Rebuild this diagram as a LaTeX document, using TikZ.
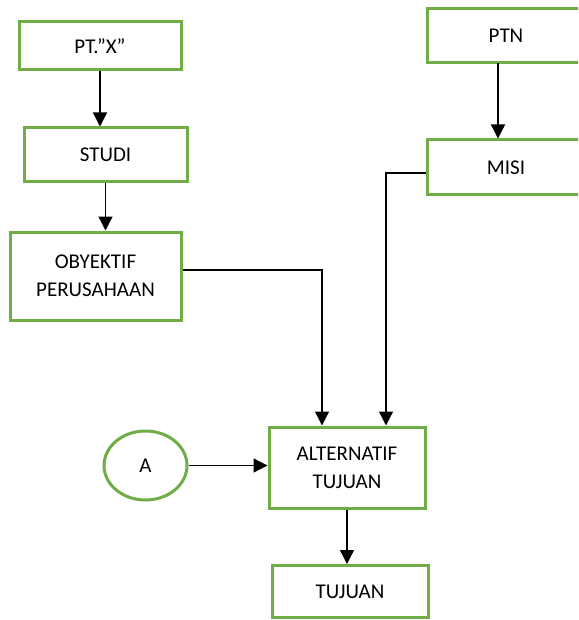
\documentclass[tikz,border=0pt]{standalone}
\usepackage{fontspec}
\setmainfont{Carlito}
\usetikzlibrary{arrows.meta,positioning,shapes.geometric}
\definecolor{boxgreen}{RGB}{112,173,71}

\begin{document}
\begin{tikzpicture}
	[
	x=1pt, y=-1pt,
	align=center,
	font=\fontsize{21}{28}\selectfont,
	box/.style={rectangle,draw=boxgreen,line width=3pt,fill=none,inner sep=0pt},
	oval/.style={ellipse,draw=boxgreen,line width=3pt,fill=none,inner sep=0pt},
	arrow/.style={
           -{Triangle[length=14pt,width=14pt]},
           line width=1.3pt,}
	]
		\clip (0,0) rectangle (578,620);
		
		% nodes
		\node[box,minimum width=162pt,minimum height=48pt] (ptx) at 	(100.0,  46.0) {PT.''X''};
		\node[box,minimum width=163pt,minimum height=54pt] (studi) at 	(105.5, 155.0) {STUDI};
		\node[box,minimum width=171pt,minimum height=88pt] (obyektif) at 	( 95.5, 276.0) {OBYEKTIF\\PERUSAHAAN};
		\node[box,minimum width=158pt,minimum height=54pt] (ptn) at 	(506.0,  36.0) {PTN};
		\node[box,minimum width=158pt,minimum height=55pt] (misi) at 	(506.0, 167.5) {MISI};
		\node[box,minimum width=156pt,minimum height=81pt] (alt) at 	(347.0, 467.5) {ALTERNATIF\\TUJUAN};
		\node[box,minimum width=156pt,minimum height=52pt] (tujuan) at 	(350.0, 591.5) {TUJUAN};
		\node[oval,minimum width=83pt,minimum height=69pt] (a) at 		(145.5, 465.5) {A};
		
		% bends
		\coordinate (k1) at (322, 270);
		\coordinate (k2) at (386, 173);
		\coordinate (k3) at (498,  63);
		
		% straight paths
		\draw[arrow] (ptx.south) -- (ptx.south |- studi.north);
		\draw[arrow] (studi.south) -- (studi.south |- obyektif.north);
		\draw[arrow] (k3) -- (k3 |- misi.north);
		\draw[arrow] (a.east) -- (a.east -| alt.west);
		\draw[arrow] (alt.south) -- (alt.south |- tujuan.north);
		
		% elbow paths
		\draw[arrow] (obyektif.east |- k1) -- (k1) -- (k1 |- alt.north);
		\draw[arrow] (misi.west |- k2) -- (k2) -- (k2 |- alt.north);
		
	\end{tikzpicture}
\end{document}
